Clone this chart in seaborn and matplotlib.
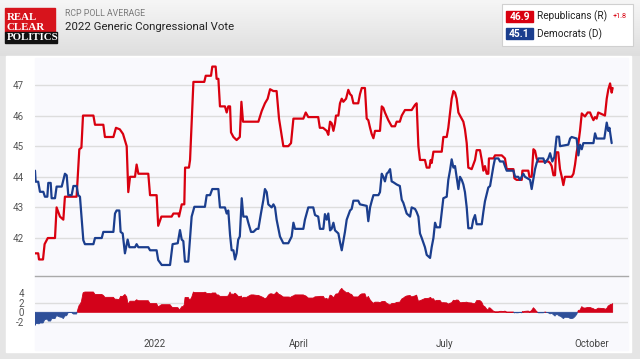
import numpy as np
import pandas as pd
import matplotlib
matplotlib.use("Agg")
import matplotlib.pyplot as plt
import matplotlib.patches as mpatches
import seaborn as sns

# ---- data (days after start date, poll value) ----
start = "2021-10-18"
rep_day = [0, 2, 2.5, 5, 6, 8, 12.5, 13.5, 15.6, 17.7, 18.7, 26, 27.7, 29, 30, 36.5, 37.5, 42.7, 43.7, 49,
           50.6, 53, 55, 57.3, 58.3, 59.4, 62.5, 63.5, 64.6, 70.8, 71.9, 76, 77, 79, 85.4, 86.5, 89.6, 90,
           91.7, 93.3, 93.8, 96.2, 96.9, 99, 105.8, 106.7, 110, 110.8, 112.9, 113.5, 114.6, 115.6, 118.7,
           119.8, 120.8, 121.9, 122.5, 124, 126, 128, 129, 130, 139.6, 141.7, 143.7, 145.4, 146.9, 149, 151,
           152.5, 155.2, 158.3, 160, 161.5, 167.7, 169.2, 170.8, 177, 178, 180, 182.3, 183.3, 184.4, 185.4,
           186.5, 187.5, 188.1, 189.6, 190.6, 191.7, 192.7, 194.4, 195.8, 196.9, 197.9, 199, 202, 203.1,
           204.2, 206.2, 207.3, 208.3, 209.4, 210.4, 211.5, 212.5, 215.6, 216.7, 217.7, 218.7, 220.8, 222.9,
           225, 226, 228, 229.2, 231.2, 235.4, 237.5, 238.5, 239.6, 240.6, 243.7, 244.8, 246.5, 247.3, 247.9,
           249, 254.2, 255.2, 257.3, 258.3, 259.4, 260.4, 261.5, 262.5, 263.5, 264.6, 265.6, 267.7, 268.7,
           269.8, 270.8, 272.9, 275, 276, 278.1, 279.2, 280.2, 281.2, 282.3, 283.3, 283.7, 286.5, 287.5,
           291.7, 292.7, 293.7, 294.8, 299, 299.6, 301, 304.2, 304.6, 308.3, 309, 310.4, 311.5, 312.5, 313.5,
           314.6, 320.8, 321.9, 322.9, 324, 325, 325.6, 327, 328.1, 329.2, 330.2, 331.2, 335.4, 336.5, 337.5,
           338.5, 339.6, 340.6, 341.7, 343.7, 345.4, 346.9, 347.9, 349, 350, 351, 352, 356.2, 357.3, 358.3,
           359.4, 360.4, 361]
rep_val = [41.5, 41.5, 41.3, 41.3, 41.8, 42.0, 42.0, 43.0, 42.7, 42.6, 43.35, 43.35, 44.9, 44.95, 46.0, 46.0,
           45.7, 45.7, 45.3, 45.3, 45.6, 45.55, 45.4, 45.0, 43.5, 44.0, 44.0, 44.4, 44.1, 44.1, 43.4, 43.4,
           42.4, 42.7, 42.7, 42.8, 42.8, 42.7, 43.1, 43.1, 44.3, 44.3, 44.55, 47.1, 47.1, 47.3, 47.3, 47.6,
           47.6, 47.2, 47.2, 46.3, 46.3, 46.1, 46.3, 46.3, 45.45, 45.3, 45.2, 45.3, 46.45, 45.8, 45.8, 46.15,
           46.4, 46.55, 46.86, 46.8, 46.8, 45.9, 45.0, 45.0, 45.1, 45.9, 45.9, 46.1, 45.95, 45.95, 45.6, 45.6,
           45.5, 45.37, 45.8, 45.75, 45.5, 45.75, 46.0, 46.0, 46.4, 46.55, 46.45, 46.55, 46.84, 46.7, 46.65,
           46.4, 46.4, 46.7, 46.9, 46.9, 45.9, 45.85, 45.6, 45.4, 45.26, 45.5, 45.5, 46.3, 46.25, 46.1, 45.85,
           45.65, 45.65, 45.8, 45.8, 46.0, 46.18, 46.18, 46.35, 46.4, 45.0, 44.55, 44.55, 44.3, 44.3, 44.55,
           44.45, 44.82, 44.82, 45.3, 45.3, 45.6, 46.1, 46.55, 46.8, 46.75, 46.55, 46.1, 46.0, 45.8, 45.55,
           45.1, 44.3, 44.25, 44.55, 44.87, 44.87, 44.55, 44.2, 44.35, 44.1, 44.1, 44.6, 44.6, 44.7, 44.7,
           44.65, 44.6, 44.25, 44.25, 43.95, 43.9, 43.9, 44.2, 44.2, 44.0, 44.0, 44.9, 44.85, 44.6, 44.5,
           44.5, 44.45, 44.35, 44.05, 44.05, 44.8, 44.8, 44.25, 44.0, 43.73, 44.0, 44.0, 44.1, 44.4, 44.8,
           45.1, 45.5, 46.07, 45.97, 46.1, 46.1, 45.97, 45.85, 45.95, 45.9, 46.1, 46.0, 46.55, 46.85, 47.05,
           46.75, 46.9]
dem_day = [0, 0.4, 2, 3.1, 5.2, 6.2, 7.7, 8.3, 9.8, 10.4, 12.5, 13.5, 16.7, 18.7, 19.8, 20.8, 22.9, 24, 26,
           27, 28.1, 30.2, 31.2, 36.5, 37.5, 41.7, 42.7, 49, 50, 51, 52.7, 53.5, 54.8, 56.2, 57.9, 59, 62.5,
           63.5, 64.6, 70.8, 71.9, 76, 77, 79.2, 84.4, 86, 89.2, 90.6, 91.7, 92.7, 93.7, 95.8, 96.9, 97.9,
           99.6, 106.2, 107.3, 109.4, 110.8, 114.6, 115.6, 118.7, 119.8, 120.8, 121.9, 122.9, 124, 125, 126,
           127, 128, 129.2, 130.2, 132.3, 133.3, 135, 136.5, 138.5, 139.6, 141.2, 142.7, 143.7, 144.8, 145.8,
           147.9, 149, 150, 151, 153.1, 155.2, 158.3, 160.4, 161.5, 162.5, 167.7, 168.7, 170.8, 173.9, 175,
           177, 178.1, 180.2, 181.2, 182.3, 183.3, 184.4, 185.4, 186.5, 187.5, 189.6, 190.6, 191.7, 192.7,
           193.7, 194.8, 196.9, 197.9, 199, 202, 203.1, 207.3, 208.3, 209.4, 210.4, 211.5, 214.6, 215.6,
           216.7, 217.7, 218.7, 219.8, 220.8, 221.9, 222.9, 224, 226, 228, 229.2, 230.2, 232.3, 233.3, 234.4,
           235.4, 237.5, 238.5, 239.6, 240.6, 241.7, 243.7, 244.8, 246.9, 247.9, 249, 250, 251, 253.1, 255.2,
           257.3, 258.3, 259.4, 260.4, 261.5, 262.5, 263.5, 264.6, 265.6, 266.7, 267.7, 268.7, 269.8, 270.8,
           272.9, 273.9, 275, 276, 279.2, 280.2, 281.2, 283.3, 284.4, 285.4, 286.5, 287.5, 289.6, 290.6,
           292.7, 293.7, 294.8, 299, 300, 302, 303.1, 305.2, 306.2, 309.4, 310.4, 311.5, 312.5, 313.5, 314.6,
           317.7, 318.7, 320.8, 321.9, 323.3, 324.6, 326, 327.5, 328.1, 333.3, 334.4, 335.4, 338.5, 339.6,
           340.6, 341.7, 342.7, 349, 350, 351, 355.8, 357.3, 358.3, 359, 360.4]
dem_val = [44.2, 43.84, 43.84, 43.51, 43.51, 43.35, 43.35, 43.8, 43.8, 43.3, 43.3, 43.68, 43.68, 44.1, 44.05,
           43.4, 43.4, 43.7, 43.7, 43.4, 43.35, 41.93, 41.8, 41.8, 42.0, 42.0, 42.2, 42.2, 42.8, 42.9, 42.9,
           42.2, 42.15, 41.5, 41.95, 41.7, 41.7, 41.8, 41.7, 41.7, 41.6, 41.6, 41.28, 41.12, 41.12, 41.8,
           41.83, 42.26, 41.95, 41.9, 41.23, 41.23, 42.0, 42.7, 43.02, 43.02, 43.4, 43.4, 43.6, 43.6, 43.0,
           43.0, 42.8, 42.9, 42.1, 41.6, 41.6, 41.3, 41.5, 41.95, 42.05, 43.3, 42.7, 42.7, 42.5, 42.2, 42.2,
           42.3, 42.3, 42.8, 43.24, 43.6, 43.5, 43.1, 43.0, 43.1, 43.0, 42.6, 42.05, 41.83, 41.83, 42.05,
           42.5, 42.3, 42.3, 42.6, 43.0, 43.0, 42.75, 42.7, 42.3, 42.3, 42.78, 42.6, 42.8, 42.25, 42.3, 42.5,
           42.25, 42.15, 41.87, 41.6, 41.9, 42.2, 42.6, 42.9, 42.95, 43.22, 43.22, 43.1, 43.05, 42.55, 43.0,
           43.2, 43.4, 43.4, 43.5, 44.1, 44.0, 43.85, 44.1, 44.15, 44.25, 43.85, 43.82, 43.75, 43.7, 43.25,
           43.15, 42.8, 42.75, 42.7, 43.0, 42.95, 42.85, 42.7, 42.15, 42.0, 41.7, 41.45, 41.35, 41.7, 42.0,
           42.5, 42.35, 42.35, 43.3, 43.35, 43.9, 44.22, 44.57, 44.3, 44.35, 44.0, 43.6, 44.0, 43.9, 43.75,
           43.5, 43.0, 42.32, 42.32, 42.6, 42.75, 42.45, 42.45, 42.85, 43.2, 43.65, 43.7, 44.0, 44.35, 44.6,
           44.6, 44.5, 44.5, 44.35, 44.2, 44.2, 44.0, 44.0, 43.9, 44.1, 44.0, 43.9, 43.6, 43.95, 44.25,
           44.45, 44.6, 44.6, 44.45, 44.6, 44.77, 44.5, 44.65, 45.31, 45.31, 45.0, 45.05, 45.25, 45.3, 45.25,
           44.7, 45.05, 44.9, 45.1, 45.1, 45.42, 45.25, 45.25, 45.77, 45.5, 45.6, 45.1]

tick_dates = ["2022-01-01", "2022-04-01", "2022-07-01", "2022-10-01"]
tick_labels = ["2022", "April", "July", "October"]
rep_last, dem_last, lead = "46.9", "45.1", "+1.8"

RED = "#d9000f"
BLUE = "#1b3e8e"

t0 = pd.Timestamp(start)
rep = pd.DataFrame({"date": t0 + pd.to_timedelta(rep_day, unit="D"), "value": rep_val})
dem = pd.DataFrame({"date": t0 + pd.to_timedelta(dem_day, unit="D"), "value": dem_val})

# spread R - D on a common day grid
all_day = np.unique(np.concatenate([rep_day, dem_day]))
spread = np.interp(all_day, rep_day, rep_val) - np.interp(all_day, dem_day, dem_val)
spread_dates = t0 + pd.to_timedelta(all_day, unit="D")

sns.set_style("white")
plt.rcParams["font.family"] = ["Roboto", "DejaVu Sans"]
plt.rcParams["axes.unicode_minus"] = False

W, H = 640, 359
fig = plt.figure(figsize=(W / 100, H / 100), dpi=100)
fig.patch.set_facecolor("#e5e5e5")


def box(x0, y0, x1, y1):
    # pixel box (top-left origin) -> figure fraction rect
    return [x0 / W, 1 - y1 / H, (x1 - x0) / W, (y1 - y0) / H]


# background layer in pixel coordinates
bg = fig.add_axes([0, 0, 1, 1], zorder=-10)
bg.set_xlim(0, W)
bg.set_ylim(H, 0)
bg.axis("off")
grad = np.linspace(0, 1, 60)[:, None]
bg.imshow(grad, cmap=matplotlib.colors.LinearSegmentedColormap.from_list("g", ["#f6f6f6", "#dedede"]),
          extent=(0, W, 56, 0), aspect="auto")
bg.add_patch(mpatches.Rectangle((6, 56), 625, 296, color="white", zorder=1))
bg.add_patch(mpatches.Rectangle((35, 58), 593, 292, color="#f9f9fd", zorder=2))

# logo
bg.add_patch(mpatches.Rectangle((5, 8.3), 50, 23.4, color="#d7141c", zorder=3))
bg.add_patch(mpatches.Rectangle((5, 31.7), 52, 11.6, color="#111111", zorder=3))
for txt, yy in [("REAL", 17.5), ("CLEAR", 27), ("POLITICS", 37.5)]:
    bg.text(6.5, yy, txt, color="white", fontsize=7.8, fontweight="bold", va="center", ha="left",
            family="Liberation Serif", zorder=4)

bg.text(65, 13.5, "RCP POLL AVERAGE", fontsize=6.3, color="#7a7a7a", va="center", zorder=4)
bg.text(65, 26.5, "2022 Generic Congressional Vote", fontsize=8.2, color="#222222", va="center", zorder=4)

# legend box
bg.add_patch(mpatches.Rectangle((502, 4), 131, 42, facecolor="white", edgecolor="#d0d0d0", lw=0.8, zorder=3))
for (y0, col, val, name) in [(11, RED, rep_last, "Republicans (R)"), (28.3, BLUE, dem_last, "Democrats (D)")]:
    bg.add_patch(mpatches.Rectangle((506, y0), 27, 11, color=col, zorder=4))
    bg.text(519.5, y0 + 5.7, val, color="white", fontsize=7.4, fontweight="bold", ha="center", va="center", zorder=5)
    bg.text(537, y0 + 5.5, name, color="#222222", fontsize=7.2, va="center", zorder=5)
bg.text(613, 17, lead, color=RED, fontsize=5.2, va="center", zorder=5)

x_lo = t0
x_hi = t0 + pd.Timedelta(days=370.6)

# main chart
ax = fig.add_axes(box(35, 58, 628, 276))
ax.set_facecolor("none")
sns.lineplot(data=rep, x="date", y="value", ax=ax, color=RED, linewidth=1.6, estimator=None, sort=False)
sns.lineplot(data=dem, x="date", y="value", ax=ax, color=BLUE, linewidth=1.6, estimator=None, sort=False)
ax.set_xlim(x_lo, x_hi)
ax.set_ylim(40.76, 47.88)
ax.set_yticks([42, 43, 44, 45, 46, 47])
ax.grid(axis="y", color="#dddddd", lw=1)
ax.grid(axis="x", visible=False)
ax.set_xticks([])
ax.set_xlabel("")
ax.set_ylabel("")
ax.tick_params(axis="y", length=0, labelsize=7, labelcolor="#555555", pad=8)
for s in ["top", "right", "left"]:
    ax.spines[s].set_visible(False)
ax.spines["bottom"].set_color("#aaaaaa")
ax.spines["bottom"].set_linewidth(1)

# spread panel
ax2 = fig.add_axes(box(35, 278, 628, 333))
ax2.set_facecolor("none")
ax2.fill_between(spread_dates, spread, 0, where=spread >= 0, interpolate=True, color="#d3021a", lw=0.6)
ax2.fill_between(spread_dates, spread, 0, where=spread <= 0, interpolate=True, color="#2e4f99", lw=0.6)
for yy in [-2, 2]:
    ax2.axhline(yy, color="#dddddd", lw=1, zorder=0)
ax2.set_xlim(x_lo, x_hi)
ax2.set_ylim(-4.28, 7.1)
ax2.set_yticks([-2, 0, 2, 4])
ax2.set_xticks(pd.to_datetime(tick_dates))
ax2.set_xticklabels(tick_labels)
ax2.tick_params(axis="y", length=0, labelsize=7, labelcolor="#555555", pad=8)
ax2.tick_params(axis="x", length=0, labelsize=7, labelcolor="#444444", pad=4.5)
for s in ax2.spines.values():
    s.set_visible(False)

fig.savefig("out.png", dpi=100, facecolor=fig.get_facecolor())
